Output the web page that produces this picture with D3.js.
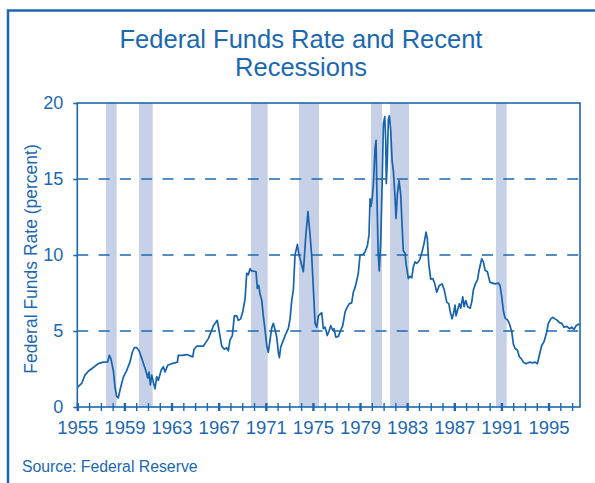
<!DOCTYPE html>
<html>
<head>
<meta charset="utf-8">
<script src="https://cdn.jsdelivr.net/npm/d3@7"></script>
<style>
  body { margin: 0; background: #fff; }
  svg { display: block; font-family: "Liberation Sans", Arial, sans-serif; }
</style>
</head>
<body>
<div id="chart"></div>
<script>
// monthly-ish readings of the fed funds line (year, percent)
var years = [
  1955.03, 1955.37, 1955.65, 1955.93, 1956.36, 1956.78, 1957.21, 1957.58, 1957.72, 1957.86,
  1958.06, 1958.20, 1958.34, 1958.48, 1958.62, 1958.90, 1959.19, 1959.47, 1959.67, 1959.84,
  1960.04, 1960.24, 1960.47, 1960.66, 1960.81, 1960.98, 1961.09, 1961.20, 1961.32, 1961.45,
  1961.60, 1961.74, 1961.88, 1962.11, 1962.30, 1962.45, 1962.67, 1963.01, 1963.29, 1963.50,
  1963.57, 1963.91, 1964.29, 1964.80, 1964.91, 1965.14, 1965.70, 1965.84, 1966.12, 1966.41,
  1966.55, 1966.69, 1966.88, 1967.05, 1967.26, 1967.48, 1967.68, 1967.82, 1967.96, 1968.16,
  1968.33, 1968.53, 1968.67, 1968.87, 1969.04, 1969.24, 1969.38, 1969.52, 1969.66, 1969.80,
  1970.00, 1970.17, 1970.28, 1970.40, 1970.51, 1970.66, 1970.79, 1970.94, 1971.08, 1971.21,
  1971.36, 1971.50, 1971.64, 1971.78, 1971.93, 1972.06, 1972.15, 1972.27, 1972.49, 1972.72,
  1972.91, 1973.06, 1973.20, 1973.34, 1973.48, 1973.68, 1973.82, 1973.96, 1974.19, 1974.39,
  1974.58, 1974.75, 1974.90, 1975.03, 1975.18, 1975.32, 1975.46, 1975.60, 1975.75, 1975.88,
  1976.03, 1976.22, 1976.39, 1976.51, 1976.68, 1976.79, 1976.94, 1977.16, 1977.36, 1977.53,
  1977.73, 1977.87, 1978.09, 1978.29, 1978.43, 1978.63, 1978.85, 1979.00, 1979.28, 1979.42,
  1979.62, 1979.76, 1979.85, 1979.93, 1980.04, 1980.13, 1980.27, 1980.36, 1980.42, 1980.53,
  1980.63, 1980.76, 1980.87, 1980.98, 1981.10, 1981.18, 1981.23, 1981.32, 1981.40, 1981.49,
  1981.60, 1981.72, 1981.83, 1981.97, 1982.05, 1982.17, 1982.31, 1982.45, 1982.56, 1982.67,
  1982.82, 1982.90, 1983.10, 1983.24, 1983.39, 1983.52, 1983.67, 1983.81, 1983.95, 1984.09,
  1984.26, 1984.43, 1984.60, 1984.71, 1984.83, 1985.00, 1985.17, 1985.31, 1985.51, 1985.73,
  1985.96, 1986.13, 1986.36, 1986.53, 1986.66, 1986.81, 1986.92, 1987.06, 1987.15, 1987.29,
  1987.43, 1987.55, 1987.72, 1987.83, 1987.97, 1988.14, 1988.34, 1988.48, 1988.62, 1988.79,
  1988.96, 1989.13, 1989.33, 1989.47, 1989.61, 1989.81, 1990.03, 1990.26, 1990.46, 1990.74,
  1990.88, 1991.03, 1991.16, 1991.31, 1991.50, 1991.67, 1991.88, 1992.01, 1992.16, 1992.35,
  1992.52, 1992.67, 1992.86, 1993.09, 1993.37, 1993.66, 1993.85, 1994.05, 1994.22, 1994.42,
  1994.62, 1994.85, 1994.98, 1995.19, 1995.36, 1995.55, 1995.75, 1995.92, 1996.12, 1996.32,
  1996.55, 1996.77, 1996.97, 1997.16, 1997.34, 1997.53, 1997.67
];
var rates = [
  1.3, 1.55, 2.1, 2.35, 2.6, 2.85, 2.95, 2.97, 3.4, 3.15,
  2.4, 1.3, 0.7, 0.6, 1.1, 1.95, 2.4, 2.95, 3.6, 3.9,
  3.9, 3.7, 3.2, 2.75, 2.4, 1.9, 2.3, 1.45, 2.1, 1.65,
  1.2, 2.0, 1.75, 2.4, 2.65, 2.3, 2.75, 2.85, 2.9, 2.95,
  3.4, 3.4, 3.45, 3.3, 3.8, 4.0, 4.0, 4.17, 4.5, 5.05,
  5.35, 5.5, 5.7, 4.95, 4.0, 3.8, 3.9, 3.7, 4.4, 4.7,
  6.0, 6.0, 5.7, 5.8, 6.25, 7.1, 8.8, 8.7, 9.1, 8.95,
  8.93, 8.9, 7.8, 8.0, 7.45, 7.0, 6.0, 5.05, 4.05, 3.6,
  4.4, 5.2, 5.5, 5.1, 4.6, 3.6, 3.25, 3.95, 4.4, 4.85,
  5.15, 5.8, 7.0, 7.7, 10.0, 10.7, 10.0, 9.6, 8.9, 11.2,
  12.85, 11.4, 9.9, 7.9, 5.5, 5.25, 6.0, 6.1, 6.2, 5.15,
  5.25, 4.7, 5.05, 5.35, 5.05, 5.15, 4.6, 4.65, 5.05, 5.35,
  6.25, 6.5, 6.8, 6.85, 7.55, 8.0, 8.8, 10.0, 10.05, 10.2,
  10.6, 11.3, 13.7, 13.2, 13.8, 14.6, 17.0, 17.55, 14.5, 10.3,
  8.95, 11.0, 14.5, 18.6, 19.1, 17.5, 14.7, 16.3, 18.9, 19.15,
  18.2, 16.2, 15.5, 13.8, 12.4, 14.0, 14.9, 14.0, 12.1, 10.3,
  10.1, 9.45, 8.45, 8.6, 8.5, 9.2, 9.55, 9.45, 9.55, 9.75,
  10.2, 10.75, 11.5, 11.1, 9.45, 8.4, 8.45, 8.2, 7.55, 8.0,
  8.1, 7.75, 6.9, 6.8, 6.25, 5.8, 6.1, 6.7, 6.0, 6.4,
  6.8, 6.5, 7.25, 6.6, 7.0, 6.6, 6.5, 6.9, 7.7, 8.1,
  8.35, 9.1, 9.75, 9.55, 9.0, 8.9, 8.2, 8.15, 8.1, 8.15,
  8.0, 7.25, 6.35, 5.85, 5.75, 5.5, 4.95, 4.15, 3.85, 3.75,
  3.3, 3.2, 2.95, 2.85, 2.95, 2.9, 2.95, 2.85, 3.4, 4.05,
  4.3, 4.95, 5.5, 5.8, 5.9, 5.8, 5.7, 5.55, 5.5, 5.25,
  5.3, 5.15, 5.25, 5.1, 5.35, 5.45, 5.4
];

// recession shading (start, end)
var recessionStart = [1957.44, 1960.24, 1969.75, 1973.82, 1979.93, 1981.55, 1990.54];
var recessionEnd   = [1958.34, 1961.40, 1971.16, 1975.52, 1980.87, 1983.16, 1991.45];

var yTicks = [0, 5, 10, 15, 20];
var gridValues = [5, 10, 15];
var xLabels = [1955, 1959, 1963, 1967, 1971, 1975, 1979, 1983, 1987, 1991, 1995];

var blue = "#1c68b0";
var lineBlue = "#1763ad";
var barColor = "#c6d0e7";

var W = 595, H = 483;
var margin = {top: 103, right: 15, bottom: 76, left: 77.3},
    width = W - margin.left - margin.right,
    height = H - margin.top - margin.bottom;

var svg = d3.select("#chart").append("svg")
    .attr("width", W)
    .attr("height", H);

// outer frame (runs off right and bottom edges)
svg.append("rect")
    .attr("x", 8).attr("y", 10.5)
    .attr("width", 640).attr("height", 540)
    .attr("fill", "none")
    .attr("stroke", blue)
    .attr("stroke-width", 2.5);

// title, two lines
svg.append("text")
    .attr("x", 301).attr("y", 48)
    .attr("text-anchor", "middle")
    .style("font-size", "25.5px")
    .style("fill", blue)
    .text("Federal Funds Rate and Recent");
svg.append("text")
    .attr("x", 301).attr("y", 76)
    .attr("text-anchor", "middle")
    .style("font-size", "25.5px")
    .style("fill", blue)
    .text("Recessions");

var g = svg.append("g")
    .attr("transform", "translate(" + margin.left + "," + margin.top + ")");

var x = d3.scaleLinear().domain([1955, 1997.67]).range([0, width]);
var y = d3.scaleLinear().domain([0, 20]).range([height, 0]);

// recession bars
g.selectAll(".rec")
    .data(d3.zip(recessionStart, recessionEnd))
    .enter().append("rect")
    .attr("class", "rec")
    .attr("x", function(d) { return x(d[0]); })
    .attr("width", function(d) { return x(d[1]) - x(d[0]); })
    .attr("y", 0)
    .attr("height", height)
    .attr("fill", barColor);

// dashed gridlines
g.selectAll(".grid")
    .data(gridValues)
    .enter().append("line")
    .attr("x1", 0).attr("x2", width)
    .attr("y1", function(d) { return y(d); })
    .attr("y2", function(d) { return y(d); })
    .attr("stroke", blue)
    .attr("stroke-width", 1.6)
    .attr("stroke-dasharray", "11,10.3");

// the rate line
var line = d3.line()
    .x(function(d) { return x(d[0]); })
    .y(function(d) { return y(d[1]); });

g.append("path")
    .datum(d3.zip(years, rates))
    .attr("d", line)
    .attr("fill", "none")
    .attr("stroke", lineBlue)
    .attr("stroke-width", 1.7)
    .attr("stroke-linejoin", "round");

// plot box
g.append("rect")
    .attr("x", 0).attr("y", 0)
    .attr("width", width).attr("height", height)
    .attr("fill", "none")
    .attr("stroke", blue)
    .attr("stroke-width", 1.6);

// y axis
var yAxis = g.append("g")
    .call(d3.axisLeft(y).tickValues(yTicks).tickSize(4).tickPadding(10));
yAxis.select(".domain").remove();
yAxis.selectAll("line").attr("stroke", blue).attr("stroke-width", 1.6);
yAxis.selectAll("text")
    .style("font-family", "'Liberation Sans', Arial, sans-serif")
    .style("font-size", "18px")
    .style("fill", blue);

// x axis: a tick every year crossing the axis, labels every 4 years
var xAxis = g.append("g")
    .attr("transform", "translate(0," + height + ")")
    .call(d3.axisBottom(x)
        .tickValues(d3.range(1955, 1998))
        .tickSize(4)
        .tickPadding(10)
        .tickFormat(function(d) { return xLabels.indexOf(d) >= 0 ? d : ""; }));
xAxis.select(".domain").remove();
xAxis.selectAll("line")
    .attr("y1", -4)
    .attr("stroke", blue)
    .attr("stroke-width", function(d) { return xLabels.indexOf(d) >= 0 ? 2.4 : 1.4; });
xAxis.selectAll("text")
    .style("font-family", "'Liberation Sans', Arial, sans-serif")
    .style("font-size", "18.5px")
    .style("fill", blue);

// y axis title
svg.append("text")
    .attr("transform", "translate(37,259) rotate(-90)")
    .attr("text-anchor", "middle")
    .style("font-size", "17.5px")
    .style("fill", blue)
    .text("Federal Funds Rate (percent)");

// source note
svg.append("text")
    .attr("x", 22).attr("y", 472)
    .style("font-size", "15.8px")
    .style("fill", blue)
    .text("Source: Federal Reserve");
</script>
</body>
</html>
